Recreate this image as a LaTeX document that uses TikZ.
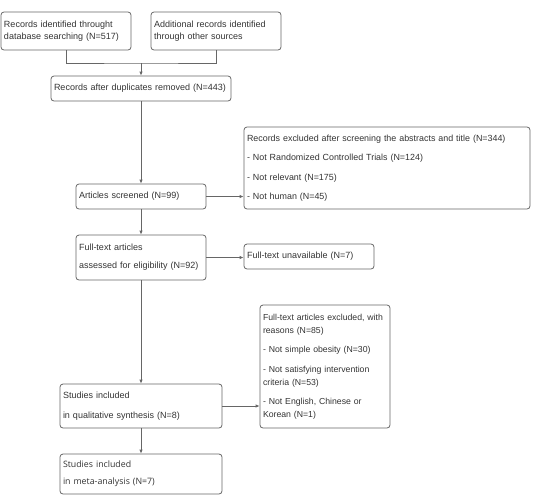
\documentclass[tikz,border=0pt]{standalone}
\usepackage{fontspec}
\setmainfont{Liberation Sans}
\newfontfamily\metafont{Open Sans}
\usetikzlibrary{arrows.meta,calc}
\definecolor{boxline}{HTML}{666666}
\definecolor{txt}{HTML}{333333}
\begin{document}
\begin{tikzpicture}[x=1pt,y=-1pt,
  box/.style={draw=boxline, line width=0.8pt, rounded corners=3pt, align=left,
    inner xsep=3pt, inner ysep=0pt, text=txt,
    font=\fontsize{9}{13}\selectfont, anchor=center},
  conn/.style={draw=boxline, line width=0.8pt},
  arr/.style={conn, -{Latex[length=4pt,width=3.5pt]}}]
\useasboundingbox (0,0) rectangle (540,501);
\node[box, text width=124pt, minimum height=38pt] (b1) at (66,31)
  {Records identified throught\\[-1pt]database searching (N=517)};
\node[box, text width=124pt, minimum height=38pt] (b2) at (216,31)
  {Additional records identified\\[-1pt]through other sources};
\node[box, text width=174pt, minimum height=25pt] (b3) at (141,88.5)
  {Records after duplicates removed (N=443)};
\node[box, text width=280pt, minimum height=82pt, font=\fontsize{8.9}{13}\selectfont] (excl) at (387,168)
  {Records excluded after screening the abstracts and title (N=344)\\[6.5pt]
   - Not Randomized Controlled Trials (N=124)\\[6.5pt]
   - Not relevant (N=175)\\[6.5pt]
   - Not human (N=45)};
\node[box, text width=124pt, minimum height=25pt] (scr) at (141,196.5)
  {Articles screened (N=99)};
\node[box, text width=124pt, minimum height=45pt] (ft) at (141,257.5)
  {Full-text articles\\[5pt]\mbox{assessed for eligibility (N=92)}};
\node[box, text width=124pt, minimum height=25pt] (ftu) at (309,256.5)
  {Full-text unavailable (N=7)};
\node[box, text width=124pt, minimum height=123pt, font=\fontsize{8.7}{13}\selectfont] (ftx) at (325,366.5)
  {\mbox{Full-text articles excluded, with}\\reasons (N=85)\\[6.5pt]
   - Not simple obesity (N=30)\\[6.5pt]
   - Not satisfying intervention\\criteria (N=53)\\[6.5pt]
   - Not English, Chinese or\\Korean (N=1)};
\node[box, text width=156pt, minimum height=44pt] (qual) at (141,406)
  {Studies included\\[7pt]in qualitative synthesis (N=8)};
\node[box, text width=156pt, minimum height=40pt, font=\metafont\fontsize{8.8}{13}\selectfont] (meta) at (141,474)
  {Studies included\\[4pt]in meta-analysis (N=7)};
\coordinate (j) at (141,63);
\draw[conn] (b1.south) |- (j) -| (b2.south);
\draw[arr] (j) -- (b3.north);
\draw[arr] (b3.south) -- (scr.north);
\draw[arr] (scr.east) -- (scr.east -| excl.west);
\draw[arr] (scr.south) -- (ft.north);
\draw[arr] (ft.east) -- (ft.east -| ftu.west);
\draw[arr] (ft.south) -- (qual.north);
\draw[arr] (qual.east) -- (qual.east -| ftx.west);
\draw[arr] (qual.south) -- (meta.north);
\end{tikzpicture}
\end{document}
